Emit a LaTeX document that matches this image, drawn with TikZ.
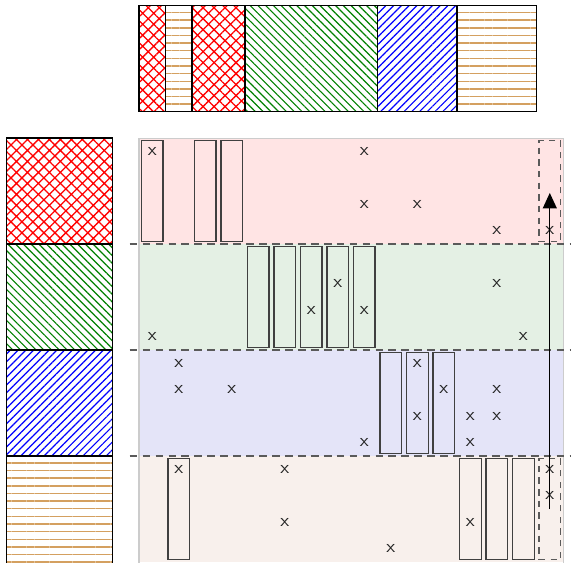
\documentclass[tikz,border=0pt]{standalone}
\usepackage{tikz}
\usetikzlibrary{arrows.meta,patterns.meta}
\definecolor{ink}{HTML}{222222}
\definecolor{frame}{HTML}{404040}
\definecolor{rule}{HTML}{5A5A5A}
\definecolor{edge}{HTML}{CCCCCC}
\definecolor{hatchgreen}{HTML}{008000}
\definecolor{hatchbrown}{HTML}{D4A060}
\definecolor{bandred}{HTML}{FFE4E4}
\definecolor{bandgreen}{HTML}{E4F0E4}
\definecolor{bandblue}{HTML}{E4E4F8}
\definecolor{bandtan}{HTML}{F8F0EC}
\tikzset{
  cell/.style={draw=frame,line width=0.5pt,inner sep=0pt,minimum width=0.295cm,minimum height=1.37cm},
  ghost/.style={cell,draw=rule,dash pattern=on 2.5pt off 2pt},
  cross/.style={font=\sffamily\scriptsize,inner sep=0pt,text=ink},
  divider/.style={draw=rule,line width=0.6pt,dash pattern=on 3pt off 2pt},
  swatch/.style={draw=black,line width=0.5pt},
  redmesh/.style={swatch,pattern={Hatch[angle=45,distance=3pt,line width=0.5pt]},pattern color=red},
  greenhatch/.style={swatch,pattern={Lines[angle=-45,distance=2.12pt,line width=0.45pt]},pattern color=hatchgreen},
  bluehatch/.style={swatch,pattern={Lines[angle=45,distance=2.12pt,line width=0.45pt]},pattern color=blue},
  tanlines/.style={swatch,pattern={Lines[angle=0,distance=2.95pt,line width=0.55pt]},pattern color=hatchbrown},
  flow/.style={-{Triangle[length=6pt,width=5.4pt]},line width=0.5pt,draw=black}
}

\begin{document}
\begin{tikzpicture}[x=0.36cm,y=0.36cm]
    \useasboundingbox (-5.245,0) rectangle (16.3,21.21);

    % bands
    \fill[bandred] (0,12) rectangle (16,16);
    \fill[bandgreen] (0,8) rectangle (16,12);
    \fill[bandblue] (0,4) rectangle (16,8);
    \fill[bandtan] (0,0) rectangle (16,4);
    \draw[edge] (0,-0.2) rectangle (16,16);

    % legend
    \draw[redmesh] (-5,12) rectangle (-1,16);
    \draw[greenhatch] (-5,8) rectangle (-1,12);
    \draw[bluehatch] (-5,4) rectangle (-1,8);
    \draw[tanlines] (-5,-0.2) rectangle (-1,4);

    % top bar
    \draw[redmesh] (0,17) rectangle (1,21);
    \draw[tanlines] (1,17) rectangle (2,21);
    \draw[redmesh] (2,17) rectangle (4,21);
    \draw[greenhatch] (4,17) rectangle (9,21);
    \draw[bluehatch] (9,17) rectangle (12,21);
    \draw[tanlines] (12,17) rectangle (15,21);

    % band separators
    \draw[divider] (-0.35,12) -- (16.3,12);
    \draw[divider] (-0.35,8) -- (16.3,8);
    \draw[divider] (-0.35,4) -- (16.3,4);

    % slots
    \node[cell] (a0) at (0.5,14) {};
    \node[cell] (a2) at (2.5,14) {};
    \node[cell] (a3) at (3.5,14) {};
    \node[ghost] (a15) at (15.5,14) {};
    \node[cell] (b4) at (4.5,10) {};
    \node[cell] (b5) at (5.5,10) {};
    \node[cell] (b6) at (6.5,10) {};
    \node[cell] (b7) at (7.5,10) {};
    \node[cell] (b8) at (8.5,10) {};
    \node[cell] (c9) at (9.5,6) {};
    \node[cell] (c10) at (10.5,6) {};
    \node[cell] (c11) at (11.5,6) {};
    \node[cell] (d1) at (1.5,2) {};
    \node[cell] (d12) at (12.5,2) {};
    \node[cell] (d13) at (13.5,2) {};
    \node[cell] (d14) at (14.5,2) {};
    \node[ghost] (d15) at (15.5,2) {};

    % marks (column/row)
    \foreach \c/\r [count=\k] in {0/0,8/0,8/2,10/2,13/3,15/3,
        7/5,13/5,6/6,8/6,0/7,14/7,
        1/8,10/8,1/9,3/9,11/9,13/9,10/10,12/10,13/10,8/11,12/11,
        1/12,5/12,15/12,15/13,5/14,12/14,9/15}
      \node[cross] (x\k) at (\c+0.5,15.5-\r) {x};

    \coordinate (tail) at (15.5,2);
    \coordinate (head) at (15.5,13.93);
    \draw[flow] (tail) -- (head);
  \end{tikzpicture}
\end{document}
